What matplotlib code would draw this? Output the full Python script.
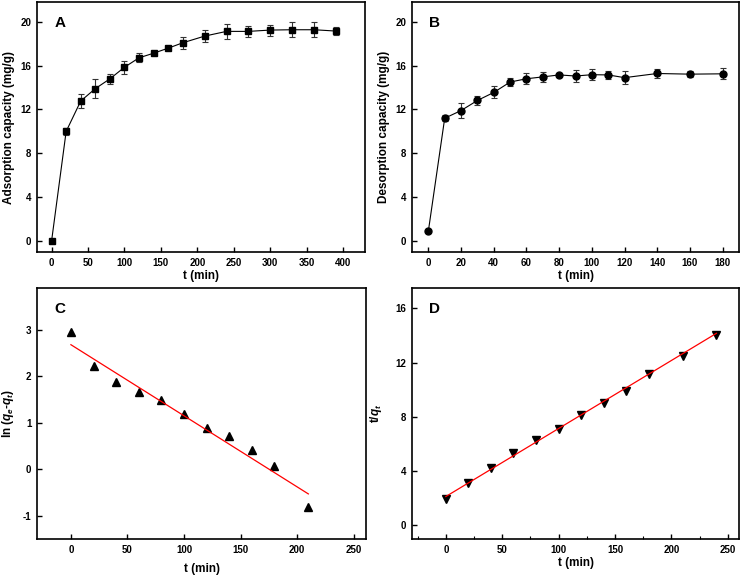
import matplotlib
matplotlib.use("Agg")
import matplotlib.pyplot as plt
from matplotlib.ticker import MultipleLocator

plt.rcParams['font.family'] = ['Liberation Sans', 'DejaVu Sans']
plt.rcParams['font.weight'] = 'bold'
plt.rcParams['axes.unicode_minus'] = False
plt.rcParams['mathtext.fontset'] = 'custom'
plt.rcParams['mathtext.rm'] = 'Liberation Sans:bold'
plt.rcParams['mathtext.it'] = 'Liberation Sans:italic:bold'
plt.rcParams['mathtext.bf'] = 'Liberation Sans:bold'

# A: adsorption kinetics
t_ads = [0, 20, 40, 60, 80, 100, 120, 140, 160, 180, 210, 240, 270, 300, 330, 360, 390]
q_ads = [0.0, 10.0, 12.77, 13.9, 14.79, 15.85, 16.71, 17.13, 17.59, 18.08, 18.69,
         19.12, 19.12, 19.24, 19.27, 19.27, 19.15]
err_ads = [0.0, 0.3, 0.65, 0.87, 0.47, 0.6, 0.4, 0.1, 0.12, 0.53, 0.52,
           0.68, 0.5, 0.5, 0.7, 0.7, 0.4]

# B: desorption kinetics
t_des = [0, 10, 20, 30, 40, 50, 60, 70, 80, 90, 100, 110, 120, 140, 160, 180]
q_des = [0.9, 11.2, 11.9, 12.82, 13.55, 14.5, 14.8, 14.97, 15.15, 15.05, 15.17,
         15.15, 14.9, 15.28, 15.22, 15.25]
err_des = [0.0, 0.25, 0.66, 0.4, 0.55, 0.4, 0.5, 0.45, 0.2, 0.55, 0.5,
           0.4, 0.6, 0.4, 0.3, 0.5]

# C: pseudo-first-order
t_c = [0, 20, 40, 60, 80, 100, 120, 140, 160, 180, 210]
ln_c = [2.96, 2.22, 1.87, 1.67, 1.48, 1.18, 0.88, 0.72, 0.42, 0.06, -0.81]
fit_c_t = [0, 210]
fit_c_y = [2.68, -0.53]

# D: pseudo-second-order
t_d = [0, 20, 40, 60, 80, 100, 120, 140, 160, 180, 210, 240]
tq_d = [1.94, 3.12, 4.22, 5.37, 6.26, 7.12, 8.12, 9.0, 9.89, 11.19, 12.49, 14.06]
fit_d_t = [0, 240]
fit_d_y = [2.13, 14.16]

W, H = 742, 577
fig = plt.figure(figsize=(W / 100, H / 100), dpi=100)

def box(l, t, r, b):
    return [l / W, 1 - b / H, (r - l) / W, (b - t) / H]

axA = fig.add_axes(box(37, 2, 365, 252))
axB = fig.add_axes(box(412, 2, 739, 252))
axC = fig.add_axes(box(37, 288, 366, 539))
axD = fig.add_axes(box(412, 288, 739, 539))

tick_fs = 7
lab_fs = 8.5

def style(ax, letter):
    for s in ax.spines.values():
        s.set_linewidth(1.2)
    ax.tick_params(direction='in', length=3.5, width=1, labelsize=tick_fs, pad=4)
    ax.tick_params(which='minor', direction='in', length=2, width=0.8)
    for lbl in ax.get_xticklabels() + ax.get_yticklabels():
        lbl.set_fontweight('bold')
    ax.text(0.07, 0.945, letter, transform=ax.transAxes, fontsize=11,
            fontweight='bold', va='top', ha='center')

# panel A
axA.errorbar(t_ads, q_ads, yerr=err_ads, color='black', lw=0.8, marker='s', ms=4.5,
             ecolor='#333333', elinewidth=0.8, capsize=2.5, capthick=0.8)
axA.set_xlim(-20, 430)
axA.set_ylim(-1, 21.8)
axA.xaxis.set_major_locator(MultipleLocator(50))
axA.yaxis.set_major_locator(MultipleLocator(4))
axA.set_xlabel('t (min)', fontsize=lab_fs, fontweight='bold', labelpad=2)
axA.set_ylabel('Adsorption capacity (mg/g)', fontsize=lab_fs, fontweight='bold', labelpad=4)
style(axA, 'A')

# panel B
axB.errorbar(t_des, q_des, yerr=err_des, color='black', lw=0.8, marker='o', ms=5,
             ecolor='#333333', elinewidth=0.8, capsize=2.5, capthick=0.8)
axB.set_xlim(-10, 190)
axB.set_ylim(-1, 21.8)
axB.xaxis.set_major_locator(MultipleLocator(20))
axB.yaxis.set_major_locator(MultipleLocator(4))
axB.set_xlabel('t (min)', fontsize=lab_fs, fontweight='bold', labelpad=2)
axB.set_ylabel('Desorption capacity (mg/g)', fontsize=lab_fs, fontweight='bold', labelpad=4)
style(axB, 'B')

# panel C
axC.plot(t_c, ln_c, linestyle='none', marker='^', ms=5.5, color='black')
axC.plot(fit_c_t, fit_c_y, color='red', lw=0.9)
axC.set_xlim(-30, 261)
axC.set_ylim(-1.5, 3.9)
axC.xaxis.set_major_locator(MultipleLocator(50))
axC.yaxis.set_major_locator(MultipleLocator(1))
axC.set_xlabel('t (min)', fontsize=lab_fs, fontweight='bold', labelpad=6)
axC.set_ylabel(r'ln ($q_e$-$q_t$)', fontsize=lab_fs, fontweight='bold', labelpad=5)
style(axC, 'C')

# panel D
axD.plot(t_d, tq_d, linestyle='none', marker='v', ms=5.5, color='black')
axD.plot(fit_d_t, fit_d_y, color='red', lw=0.9)
axD.set_xlim(-30, 260)
axD.set_ylim(-1, 17.5)
axD.xaxis.set_major_locator(MultipleLocator(50))
axD.xaxis.set_minor_locator(MultipleLocator(25))
axD.yaxis.set_major_locator(MultipleLocator(4))
axD.set_xlabel('t (min)', fontsize=lab_fs, fontweight='bold', labelpad=2)
axD.set_ylabel(r't/$q_t$', fontsize=lab_fs, fontweight='bold', labelpad=8)
style(axD, 'D')

fig.savefig('out.png', dpi=100)
